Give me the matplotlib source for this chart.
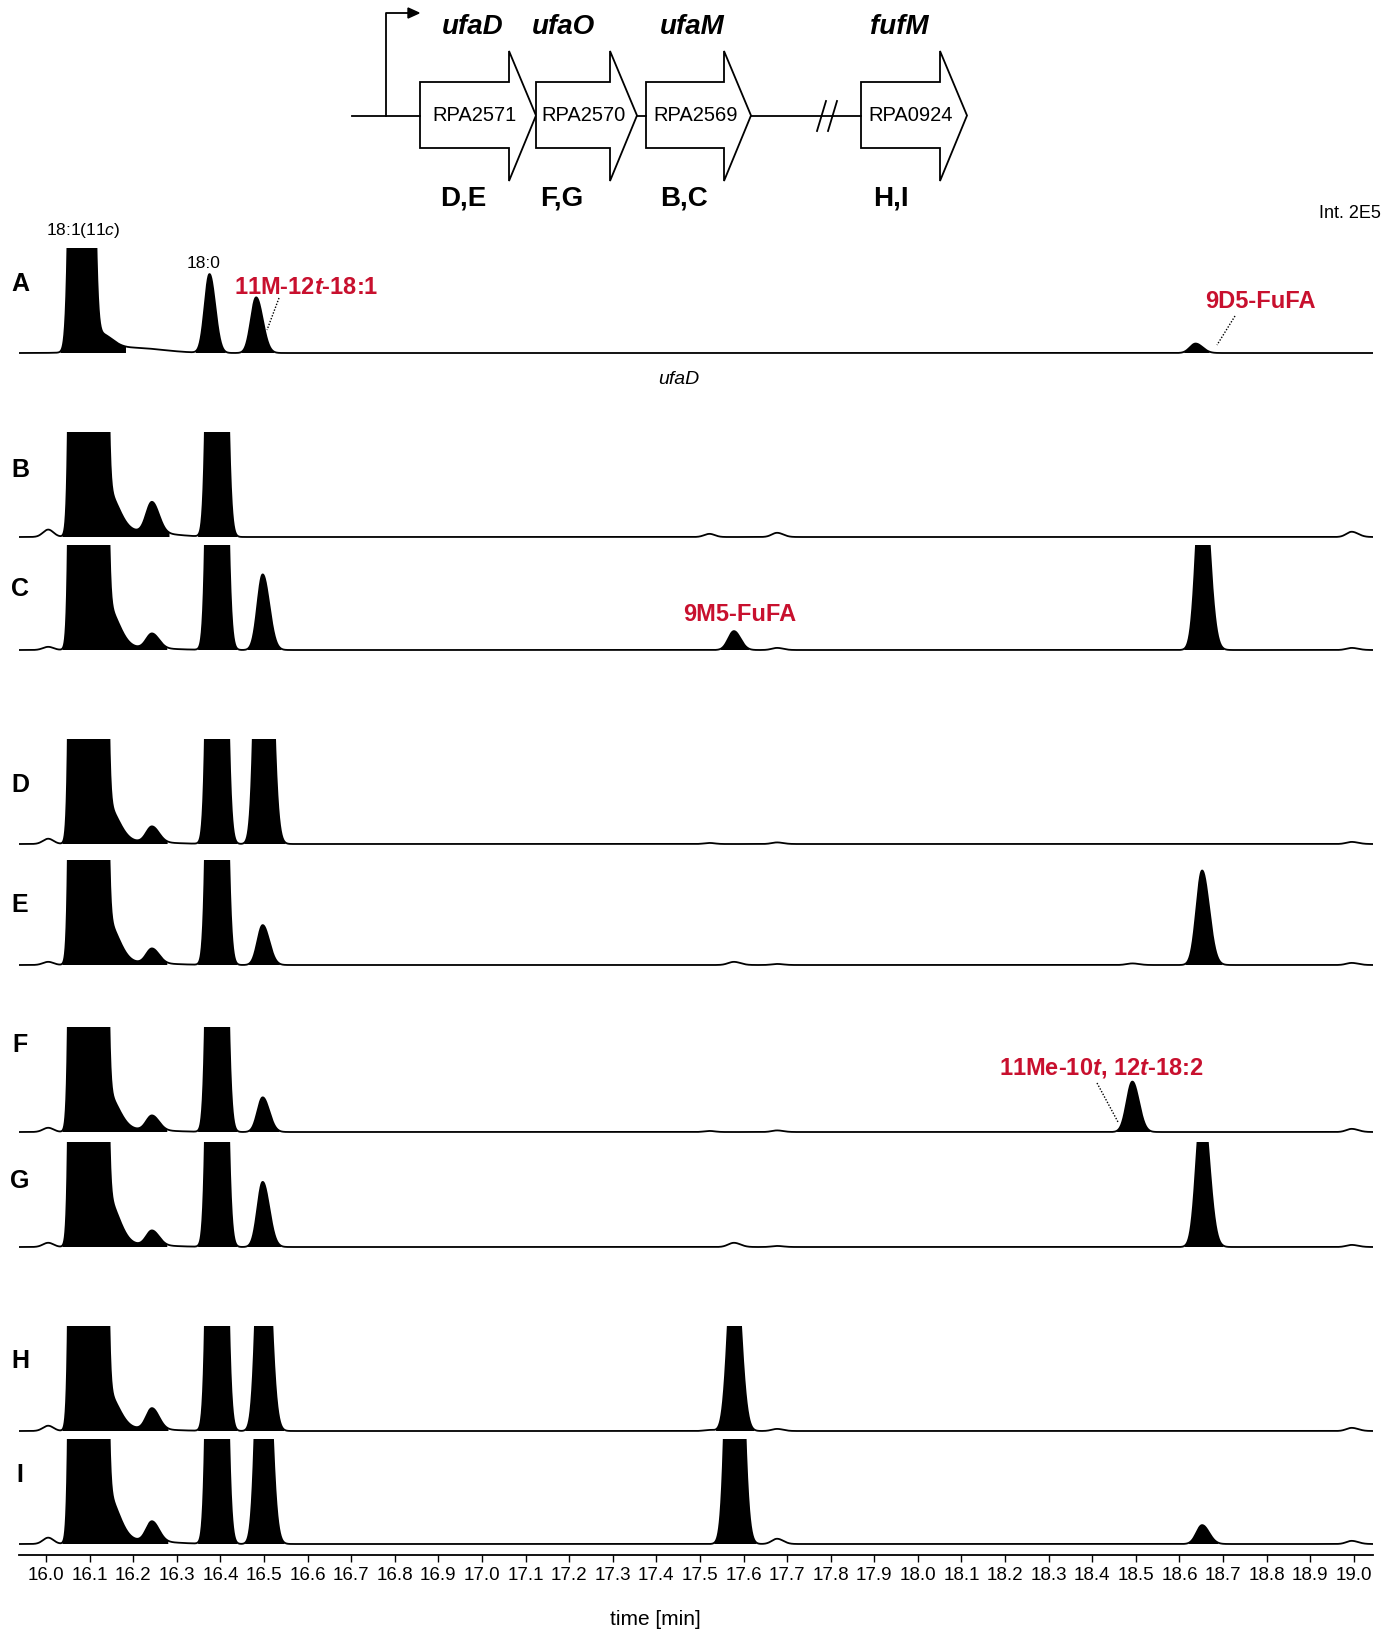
import numpy as np
import matplotlib
matplotlib.use('Agg')
import matplotlib.pyplot as plt
from matplotlib.patches import Polygon

plt.rcParams['font.family'] = ['Liberation Sans', 'DejaVu Sans']
plt.rcParams['mathtext.fontset'] = 'custom'
plt.rcParams['mathtext.rm'] = 'Liberation Sans'
plt.rcParams['mathtext.it'] = 'Liberation Sans:italic'
plt.rcParams['mathtext.bf'] = 'Liberation Sans:bold'
plt.rcParams['mathtext.bfit'] = 'Liberation Sans:bold:italic'

RED = '#c8102e'

# ---- chromatogram peaks (retention time in min, left / right width in min)
peak_rt = [16.005, 16.097, 16.140, 16.210, 16.243, 16.390, 16.497,
           17.522, 17.578, 17.677, 18.492, 18.652, 18.995]
peak_sl = [0.012, 0.0123, 0.020, 0.07, 0.013, 0.011, 0.012,
           0.012, 0.013, 0.012, 0.013, 0.013, 0.012]
peak_sr = [0.012, 0.0123, 0.026, 0.07, 0.016, 0.013, 0.015,
           0.012, 0.015, 0.014, 0.015, 0.016, 0.015]
peak_filled = [False, True, True, False, True, True, True,
               False, True, False, True, True, False]

# heights relative to full scale (Int. 2E5 = 1)
height_A = [0, 36, 0.15, 0.05, 0, 0.75, 0.53, 0, 0, 0, 0, 0.09, 0]
height_B = [0.07, 1500, 0.40, 0.05, 0.29, 15, 0, 0.03, 0, 0.04, 0, 0, 0.05]
height_C = [0.03, 1500, 0.40, 0.02, 0.14, 15, 0.72, 0, 0.18, 0.02, 0, 1.8, 0.02]
height_D = [0.05, 1500, 0.35, 0.02, 0.15, 15, 6, 0.01, 0, 0.015, 0, 0, 0.02]
height_E = [0.03, 1500, 0.40, 0.02, 0.14, 15, 0.38, 0, 0.03, 0.01, 0.015, 0.9, 0.02]
height_F = [0.04, 1500, 0.35, 0.02, 0.14, 15, 0.33, 0.01, 0, 0.015, 0.48, 0, 0.03]
height_G = [0.04, 1500, 0.45, 0.02, 0.14, 15, 0.62, 0, 0.04, 0.01, 0, 1.4, 0.02]
height_H = [0.05, 1500, 0.35, 0.02, 0.20, 15, 3, 0.01, 1.8, 0.02, 0, 0, 0.03]
height_I = [0.06, 1500, 0.45, 0.03, 0.19, 15, 3.5, 0, 5, 0.05, 0, 0.18, 0.03]

trace_names = ['A', 'B', 'C', 'D', 'E', 'F', 'G', 'H', 'I']
trace_heights = [height_A, height_B, height_C, height_D, height_E,
                 height_F, height_G, height_H, height_I]
rt_shift = [-0.015, 0, 0, 0, 0, 0, 0, 0, 0]

tick_vals = np.round(np.arange(16.0, 19.001, 0.1), 1)

# ---- gene cluster
gene_names = ['ufaD', 'ufaO', 'ufaM', 'fufM']
gene_tags = ['RPA2571', 'RPA2570', 'RPA2569', 'RPA0924']
gene_panels = ['D,E', 'F,G', 'B,C', 'H,I']
gene_start = [420, 536, 646, 861]
gene_end = [536, 637, 751, 967]

# ---- layout (pixels of the 1396 x 1631 figure)
W, H = 1396, 1631
X0, X1 = 19, 1373
T0, T1 = 15.938, 19.044
CLIP_H = 105
baseline_px = [354, 538, 651, 845, 966, 1133, 1248, 1432, 1545]
letter_px = [284, 470, 589, 785, 905, 1045, 1181, 1361, 1475]
name_px = [473, 563, 692, 899]
panel_px = [463, 562, 684, 891]

fig = plt.figure(figsize=(W / 100, H / 100), dpi=100)


def bigauss(t, rt, h, sl, sr):
    s = np.where(t < rt, sl, sr)
    return h * np.exp(-0.5 * ((t - rt) / s) ** 2)


t = np.linspace(T0, T1, 8000)

for name, heights, shift, yb in zip(trace_names, trace_heights, rt_shift, baseline_px):
    bottom = yb + 0.1 * CLIP_H
    ax = fig.add_axes([X0 / W, 1 - bottom / H, (X1 - X0) / W, 1.1 * CLIP_H / H])
    ax.patch.set_alpha(0)
    y = np.zeros_like(t)
    yf = np.zeros_like(t)
    for rt, h, sl, sr, filled in zip(peak_rt, heights, peak_sl, peak_sr, peak_filled):
        if h == 0:
            continue
        comp = bigauss(t, rt + shift, h, sl, sr)
        y += comp
        if filled and h >= 0.05:
            yf += comp
    ax.fill_between(t, 0, y, where=yf > 0.012, color='black', lw=0)
    ax.plot(t, y, color='black', lw=1.3)
    ax.set_xlim(T0, T1)
    ax.set_ylim(-0.1, 1.0)
    ax.axis('off')

# time axis
axt = fig.add_axes([X0 / W, 1 - 1556 / H, (X1 - X0) / W, 0.0005])
axt.patch.set_alpha(0)
for s in ['left', 'right', 'top']:
    axt.spines[s].set_visible(False)
axt.spines['bottom'].set_linewidth(1.3)
axt.set_xlim(T0, T1)
axt.set_yticks([])
axt.set_xticks(tick_vals)
axt.set_xticklabels([f'{v:.1f}' for v in tick_vals],
                    fontfamily=['Liberation Sans Narrow', 'Liberation Sans'], fontsize=13.5)
axt.tick_params(axis='x', direction='out', length=5, width=1, pad=3)

# overlay in pixel coordinates
ov = fig.add_axes([0, 0, 1, 1], zorder=5)
ov.patch.set_alpha(0)
ov.set_xlim(0, W)
ov.set_ylim(H, 0)
ov.axis('off')

fig.text(655 / W, 1 - 1620 / H, 'time [min]', ha='center', va='center', fontsize=15)

# gene diagram
YB = 116.5
ov.plot([352, gene_start[0]], [YB, YB], color='black', lw=1.3)
ov.plot([gene_end[1], gene_start[2]], [YB, YB], color='black', lw=1.3)
ov.plot([gene_end[2], gene_start[3]], [YB, YB], color='black', lw=1.3)
for dx in (0, 11):
    ov.plot([817 + dx, 826 + dx], [132, 102], color='black', lw=1.3)
ov.plot([386, 386, 410], [YB, 14, 14], color='black', lw=1.3)
ov.add_patch(Polygon([[408, 9], [419, 14], [408, 19]], closed=True, color='black'))
for name, tag, pnl, x0, x1, xn, xp in zip(gene_names, gene_tags, gene_panels,
                                          gene_start, gene_end, name_px, panel_px):
    xh = x1 - 27
    pts = [[x0, 83], [xh, 83], [xh, 52], [x1, YB], [xh, 182], [xh, 149], [x0, 149]]
    ov.add_patch(Polygon(pts, closed=True, facecolor='white', edgecolor='black', lw=1.3))
    xc = (x0 + x1) / 2
    ov.text(xc - 3, YB - 1, tag, ha='center', va='center', fontsize=14.5)
    ov.text(xn, 27, name, ha='center', va='center', fontsize=20,
            fontweight='bold', fontstyle='italic')
    ov.text(xp, 199, pnl, ha='center', va='center', fontsize=20, fontweight='bold')

# panel letters
for name, yl in zip(trace_names, letter_px):
    ov.text(20, yl, name, ha='center', va='center', fontsize=18, fontweight='bold')

# peak annotations
ov.text(83, 231, '18:1(11$\\mathit{c}$)', ha='center', va='center', fontsize=12.5)
ov.text(204, 263, '18:0', ha='center', va='center', fontsize=12.5)
ov.text(234, 288, '11M-12$\\mathbfit{t}$-18:1', ha='left', va='center',
        fontsize=17, fontweight='bold', color=RED)
ov.plot([279, 267], [299, 331], color='black', lw=1, ls=(0, (1, 1.2)))
ov.text(1205, 302, '9D5-FuFA', ha='left', va='center', fontsize=17,
        fontweight='bold', color=RED)
ov.plot([1235, 1217], [317, 346], color='black', lw=1, ls=(0, (1, 1.2)))
ov.text(1381, 214, 'Int. 2E5', ha='right', va='center', fontsize=13)
ov.text(679, 379, 'ufaD', ha='center', va='center', fontsize=14, fontstyle='italic')
ov.text(740, 615, '9M5-FuFA', ha='center', va='center', fontsize=17,
        fontweight='bold', color=RED)
ov.text(999, 1068, '11Me-10$\\mathbfit{t}$, 12$\\mathbfit{t}$-18:2', ha='left', va='center',
        fontsize=17, fontweight='bold', color=RED)
ov.plot([1097, 1118], [1084, 1123], color='black', lw=1, ls=(0, (1, 1.2)))

fig.savefig('out.png', dpi=100)
